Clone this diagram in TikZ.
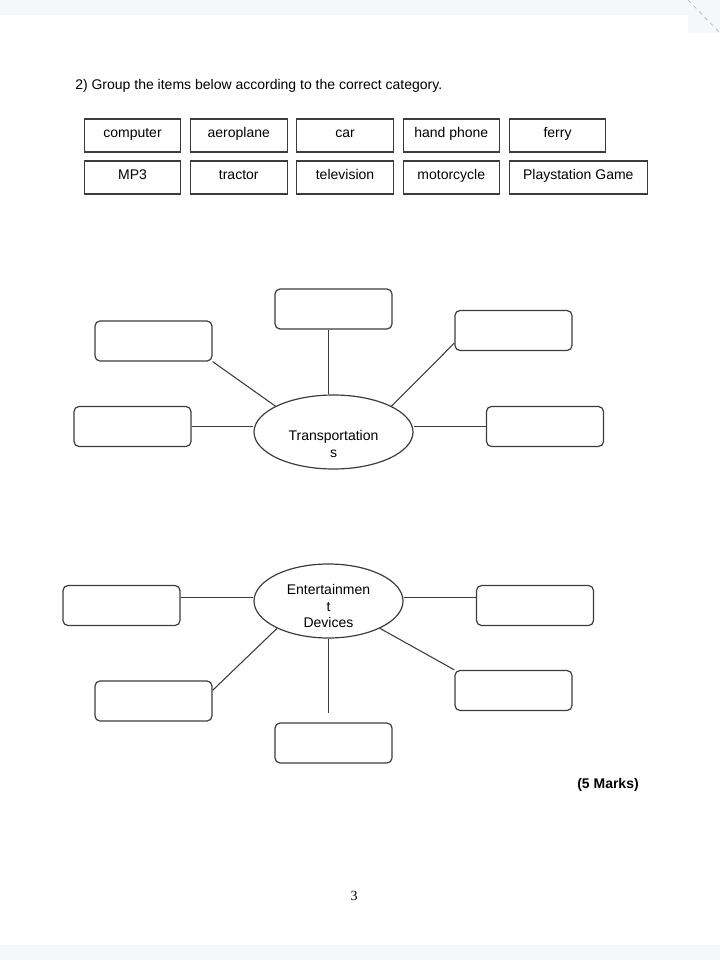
\documentclass[tikz,border=0pt]{standalone}
\usepackage{fontspec}
\setmainfont{Liberation Sans}
\newfontfamily\pagenofont{Liberation Serif}
\usetikzlibrary{positioning,shapes.geometric}

\definecolor{bandgray}{RGB}{246,247,251}
\definecolor{inkgray}{RGB}{60,60,60}

\tikzset{
  item/.style={draw=inkgray, line width=0.8pt, minimum width=72.4pt, minimum height=24.75pt, inner sep=0pt, text height=6pt, text depth=3pt},
  blank/.style={draw=inkgray, line width=0.9pt, rounded corners=3.75pt, minimum width=87.75pt, minimum height=30pt, inner sep=0pt},
  hub/.style={draw=inkgray, line width=0.9pt, ellipse, inner sep=0pt},
  spoke/.style={draw=inkgray, line width=0.8pt}
}

\begin{document}
\begin{tikzpicture}[x=0.75pt, y=-0.75pt, font=\fontsize{10.5}{12.4}\selectfont]
    \useasboundingbox (0,0) rectangle (720,960);

    % Page edges
    \fill[bandgray] (0,0) rectangle (720,15);
    \fill[bandgray] (688,0) rectangle (720,33);
    \fill[bandgray] (0,945) rectangle (720,960);
    \draw[gray!60, dashed, line width=0.5pt] (688,0) -- (720,33);

    % Question
    \node[anchor=west, inner sep=0pt] (quest) at (75,86) {2) Group the items below according to the correct category.};

    % Items to sort
    \node[item] (comp) at (132.5,135.5) {computer};
    \node[item, right=6.5pt of comp] (aero) {aeroplane};
    \node[item, right=6.5pt of aero] (car) {car};
    \node[item, right=6.5pt of car] (phone) {hand phone};
    \node[item, right=6.5pt of phone] (ferry) {ferry};
    \node[item] (mp3) at (132.5,177.5) {MP3};
    \node[item, right=6.5pt of mp3] (tractor) {tractor};
    \node[item, right=6.5pt of tractor] (tv) {television};
    \node[item, right=6.5pt of tv] (moto) {motorcycle};
    \node[item, right=6.5pt of moto, minimum width=103.5pt] (game) {Playstation Game};

    % Transportations
    \node[hub, minimum width=119.25pt, minimum height=55.5pt,
          label={[name=transText, align=center, yshift=-9pt]center:Transportation\\s}] (trans) at (333.5,432) {};
    \node[blank] (tTop) at (333.5,309) {};
    \node[blank] (tUpLeft) at (153.5,341) {};
    \node[blank] (tUpRight) at (513.5,330.5) {};
    \node[blank] (tLeft) at (132.5,426.5) {};
    \node[blank] (tRight) at (545,426.5) {};

    \draw[spoke] ([xshift=-3.6pt]tTop.south) -- ([xshift=-3.6pt]tTop.south |- trans.north);
    \draw[spoke] (tUpLeft.south east) -- (trans.156);
    \draw[spoke] ([yshift=-9.4pt]tUpRight.west) -- (trans.24);
    \draw[spoke] (tLeft.east) -- (tLeft.east -| trans.west);
    \draw[spoke] (tRight.west) -- (tRight.west -| trans.east);

    % Entertainment devices
    \node[hub, minimum width=111.75pt, minimum height=55.5pt,
          label={[name=entText, align=center, yshift=-4pt]center:Entertainmen\\t\\Devices}] (ent) at (328.5,601) {};
    \node[blank] (eLeft) at (121.5,605.5) {};
    \node[blank] (eRight) at (535,605.5) {};
    \node[blank] (eLowLeft) at (153.5,701) {};
    \node[blank] (eLowRight) at (513.5,690.5) {};
    \node[blank] (eBottom) at (333.5,743) {};
    \coordinate (eStub) at (328.5,713);

    \draw[spoke] ([yshift=2.6pt]ent.west) -- ([yshift=2.6pt]ent.west -| eLeft.east);
    \draw[spoke] ([yshift=2.6pt]ent.east) -- ([yshift=2.6pt]ent.east -| eRight.west);
    \draw[spoke] (ent.208) -- ([yshift=8pt]eLowLeft.east);
    \draw[spoke] (ent.-28) -- (eLowRight.north west);
    \draw[spoke] (ent.south) -- (eStub);

    % Marks and page number
    \node[font=\fontsize{10.5}{12.4}\selectfont\bfseries, anchor=east, inner sep=0pt] (marks) at (639,785) {(5 Marks)};
    \node[font=\fontsize{10.5}{12.4}\pagenofont, inner sep=0pt] (pageno) at (354,896) {3};

\end{tikzpicture}
\end{document}
